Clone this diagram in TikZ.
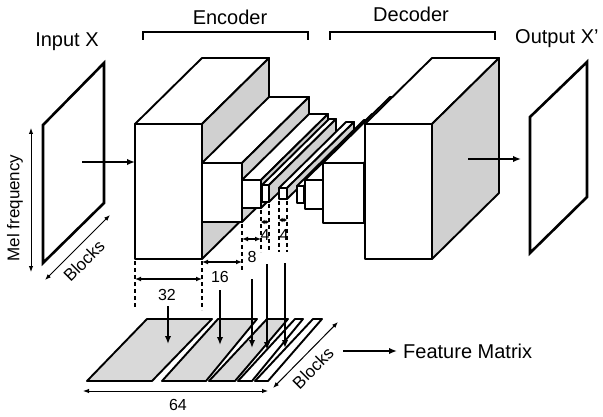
\documentclass[tikz,border=0pt]{standalone}
\usepackage{fontspec}
\setmainfont{Liberation Sans}
\usetikzlibrary{arrows.meta}
\definecolor{sidegray}{RGB}{208,208,208}
\definecolor{stripgray}{RGB}{217,217,217}
% oblique depth offset of every layer block
\newcommand\cdx{67}
\newcommand\cdy{66}
% block: left, right, top, bottom of the front face
\newcommand\cuboid[4]{%
  \filldraw[boxline,fill=white] (#1,#3) rectangle (#2,#4);
  \filldraw[boxline,fill=white] (#1,#3) -- (#1+\cdx,#3-\cdy) -- (#2+\cdx,#3-\cdy) -- (#2,#3) -- cycle;
  \filldraw[boxline,fill=sidegray] (#2,#3) -- (#2+\cdx,#3-\cdy) -- (#2+\cdx,#4-\cdy) -- (#2,#4) -- cycle;
}
\begin{document}
\begin{tikzpicture}[x=1pt,y=-1pt,
  boxline/.style={line width=1.9pt,line join=round},
  plane/.style={line width=2.6pt,line join=miter},
  flow/.style={line width=1.6pt,-{Latex[length=8pt,width=6.5pt]}},
  dim/.style={line width=1.2pt,{Latex[length=6pt,width=5pt]}-{Latex[length=6pt,width=5pt]}},
  tinydim/.style={line width=1.2pt,{Latex[length=3.5pt,width=4.5pt]}-{Latex[length=3.5pt,width=4.5pt]}},
  axis/.style={line width=1pt,{Latex[length=6pt,width=4.5pt]}-{Latex[length=6pt,width=4.5pt]}},
  guide/.style={line width=1.1pt,dash pattern=on 4pt off 3pt},
  bracket/.style={line width=1.6pt},
  lbl/.style={font=\fontsize{20}{24}\selectfont,inner sep=0pt},
  small/.style={font=\fontsize{17}{20}\selectfont,inner sep=0pt},
  num/.style={font=\fontsize{16}{19}\selectfont,inner sep=0pt}]
\useasboundingbox (0,0) rectangle (603,417);

% ---- titles and brackets
\node[lbl] (enc) at (230,17) {Encoder};
\node[lbl] (dec) at (411,14) {Decoder};
\draw[bracket] (143,40) -- (143,32) -- (308,32) -- (308,40);
\draw[bracket] (330,40) -- (330,32) -- (495,32) -- (495,40);
\node[lbl] (inx) at (67,42) {Input X};
\node[lbl,anchor=west] (outx) at (515,39) {Output X'};

% ---- input spectrogram plane
\draw[plane] (43,125) -- (104,63) -- (104,203) -- (43,263) -- cycle;
\coordinate (mf1) at (31,272);
\coordinate (mf2) at (31,128);
\draw[axis] (mf1) -- (mf2);
\node[small,rotate=90] (mel) at (15,208) {Mel frequency};
\coordinate (bk1) at (45,280);
\coordinate (bk2) at (110,215);
\draw[axis] (bk1) -- (bk2);
\node[small,rotate=45] (blk1) at (84,261) {Blocks};

% ---- encoder blocks
\cuboid{135}{202}{124}{259}
\cuboid{202}{242}{163}{222}
\cuboid{242}{261}{180}{208}
\cuboid{262}{269}{185}{202}
\cuboid{279}{287}{188}{199}
% ---- decoder blocks
\cuboid{297}{304}{186}{203}
\cuboid{305}{323}{180}{209}
\cuboid{323}{364}{163}{223}
\cuboid{365}{432}{124}{259}

% ---- data flow arrows
\coordinate (in1) at (82,162);
\coordinate (in2) at (135,162);
\draw[flow] (in1) -- (in2);
\coordinate (out1) at (468,159);
\coordinate (out2) at (521,159);
\draw[flow] (out1) -- (out2);

% ---- output plane
\draw[plane] (530,117) -- (587,62) -- (587,197) -- (530,253) -- cycle;

% ---- width guides
\draw[guide] (135,261) -- (135,308);
\draw[guide] (202,261) -- (202,310);
\draw[guide] (242,224) -- (242,270);
\draw[guide] (261,210) -- (261,252);
\draw[guide] (269,204) -- (269,252);
\draw[guide] (279,201) -- (279,252);
\draw[guide] (287,201) -- (287,252);
\coordinate (d32a) at (135,279); \coordinate (d32b) at (202,279);
\coordinate (d16a) at (202,262); \coordinate (d16b) at (242,262);
\coordinate (d8a) at (242,239);  \coordinate (d8b) at (261,239);
\coordinate (d4a) at (261,222);  \coordinate (d4b) at (269,222);
\coordinate (d4c) at (279,220);  \coordinate (d4d) at (287,220);
\draw[dim] (d32a) -- (d32b);
\draw[dim] (d16a) -- (d16b);
\draw[dim] (d8a) -- (d8b);
\draw[tinydim] (d4a) -- (d4b);
\draw[tinydim] (d4c) -- (d4d);
\node[num] (n32) at (167,295) {32};
\node[num] (n16) at (220,277) {16};
\node[num] (n8) at (252,257) {8};
\node[num] (n4a) at (265,235) {4};
\node[num] (n4b) at (284,235) {4};

% ---- feature matrix strips
\filldraw[boxline,fill=stripgray] (87,381) -- (152,381) -- (212,319) -- (147,319) -- cycle;
\filldraw[boxline,fill=stripgray] (162,381) -- (206,381) -- (257,319) -- (218,319) -- cycle;
\filldraw[boxline,fill=stripgray] (209,381) -- (235,381) -- (288,319) -- (267,319) -- cycle;
\filldraw[boxline,fill=white] (238,381) -- (252,381) -- (303,319) -- (295,319) -- cycle;
\filldraw[boxline,fill=white] (255,381) -- (268,381) -- (322,319) -- (313,319) -- cycle;

% ---- feature extraction arrows
\coordinate (f1a) at (168,306); \coordinate (f1b) at (168,344);
\coordinate (f2a) at (220,290); \coordinate (f2b) at (220,345);
\coordinate (f3a) at (252,279); \coordinate (f3b) at (252,348);
\coordinate (f4a) at (267,264); \coordinate (f4b) at (267,350);
\coordinate (f5a) at (285,263); \coordinate (f5b) at (285,348);
\draw[flow] (f1a) -- (f1b);
\draw[flow] (f2a) -- (f2b);
\draw[flow] (f3a) -- (f3b);
\draw[flow] (f4a) -- (f4b);
\draw[flow] (f5a) -- (f5b);

% ---- feature matrix dimensions
\coordinate (w1) at (83,391); \coordinate (w2) at (268,391);
\draw[axis] (w1) -- (w2);
\node[num] (n64) at (178,405) {64};
\coordinate (bb1) at (273,388); \coordinate (bb2) at (338,322);
\draw[axis] (bb1) -- (bb2);
\node[small,rotate=45] (blk2) at (313,368) {Blocks};
\coordinate (fm1) at (343,351); \coordinate (fm2) at (397,351);
\draw[flow] (fm1) -- (fm2);
\node[lbl,anchor=west] (fm) at (403,351) {Feature Matrix};
\end{tikzpicture}
\end{document}
